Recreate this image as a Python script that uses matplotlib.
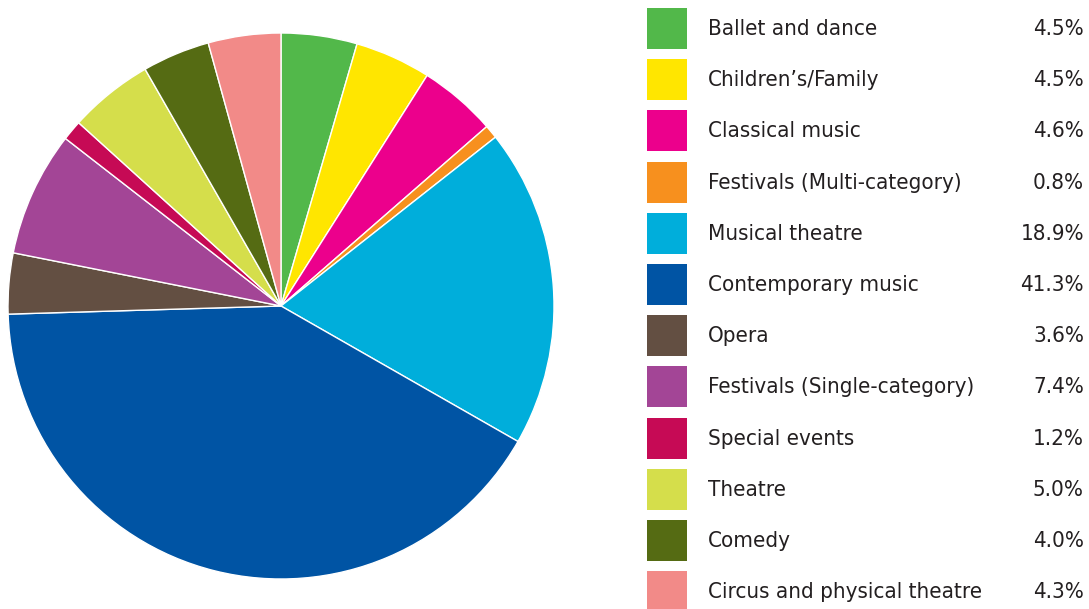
import matplotlib.pyplot as plt
from matplotlib.patches import Rectangle

# genre share of attendance
genres = [
    "Ballet and dance",
    "Children\u2019s/Family",
    "Classical music",
    "Festivals (Multi-category)",
    "Musical theatre",
    "Contemporary music",
    "Opera",
    "Festivals (Single-category)",
    "Special events",
    "Theatre",
    "Comedy",
    "Circus and physical theatre",
]
shares = [4.5, 4.5, 4.6, 0.8, 18.9, 41.3, 3.6, 7.4, 1.2, 5.0, 4.0, 4.3]
colors = [
    "#52b84a", "#ffe600", "#ec008c", "#f7901e", "#00aedb", "#0054a4",
    "#634f42", "#a34596", "#c60a55", "#d5de4b", "#556b13", "#f28a88",
]

plt.rcParams["font.family"] = ["DejaVu Sans"]
plt.rcParams["font.stretch"] = "condensed"

W, H = 1089, 609
fig = plt.figure(figsize=(W / 100, H / 100), dpi=100)

# pie centred at (281, 306) px, radius 273 px
cx, cy, r = 281, 306, 273
ax = fig.add_axes([(cx - r) / W, (H - cy - r) / H, 2 * r / W, 2 * r / H])
ax.pie(shares, colors=colors, startangle=90, counterclock=False,
       wedgeprops=dict(edgecolor="white", linewidth=1.0))
ax.set_xlim(-1, 1)
ax.set_ylim(-1, 1)
ax.set_aspect("equal")

# legend drawn in pixel coordinates
lg = fig.add_axes([0, 0, 1, 1])
lg.set_xlim(0, W)
lg.set_ylim(H, 0)
lg.axis("off")
step = 51.2
for i, (g, s, c) in enumerate(zip(genres, shares, colors)):
    y0 = 8 + i * step
    lg.add_patch(Rectangle((647, y0), 40, 41, facecolor=c, edgecolor="none"))
    lg.text(708, y0 + 21, g, fontsize=16, color="#231f20", va="center", ha="left")
    lg.text(1084, y0 + 21, f"{s:.1f}%", fontsize=16, color="#231f20",
            va="center", ha="right")

fig.savefig("out.png", dpi=100)
